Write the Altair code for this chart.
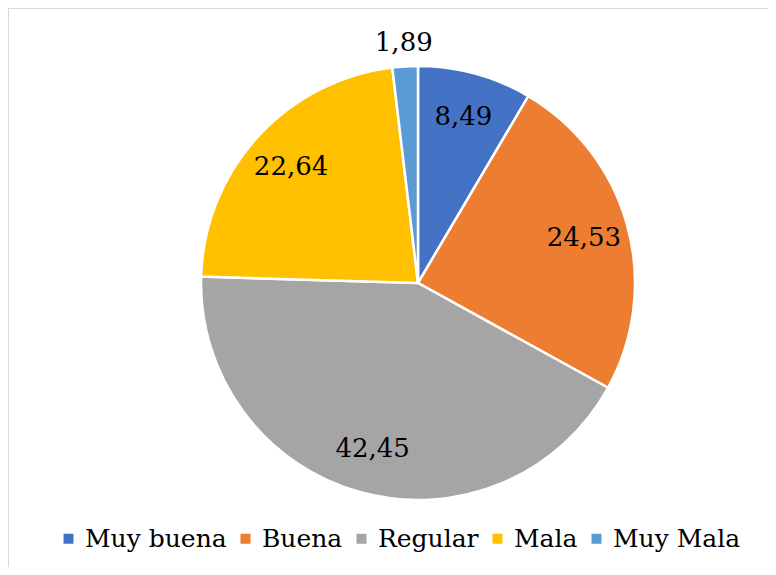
import altair as alt
import pandas as pd

categories = ["Muy buena", "Buena", "Regular", "Mala", "Muy Mala"]
values = [8.49, 24.53, 42.45, 22.64, 1.89]
colors = ["#4472C4", "#ED7D31", "#A5A5A5", "#FFC000", "#5B9BD5"]

df = pd.DataFrame({
    "cat": categories,
    "v": values,
    "ord": list(range(len(categories))),
    "lab": [f"{v:.2f}".replace(".", ",") for v in values],
})

W, H = 760, 559
CX, CY = 410, 275
FONT = "DejaVu Serif"

base = alt.Chart(df).encode(
    theta=alt.Theta("v:Q", stack=True),
    order=alt.Order("ord:Q"),
    x=alt.value(CX),
    y=alt.value(CY),
)

arcs = base.mark_arc(outerRadius=217, stroke="white", strokeWidth=2.5).encode(
    color=alt.Color(
        "cat:N",
        scale=alt.Scale(domain=categories, range=colors),
        sort=categories,
        legend=alt.Legend(
            title=None,
            orient="none",
            direction="horizontal",
            legendX=48,
            legendY=518,
            padding=0,
            symbolType="square",
            symbolSize=100,
            symbolStrokeWidth=0,
            labelFont=FONT,
            labelFontSize=25,
            labelColor="black",
            labelOffset=4,
            columnPadding=6,
            labelLimit=400,
        ),
    )
)

inner = base.mark_text(radius=172, font=FONT, fontSize=26, color="black").encode(
    text=alt.condition("datum.v > 5", alt.Text("lab:N"), alt.value(""))
)
outer = base.mark_text(radius=240, font=FONT, fontSize=26, color="black").encode(
    text=alt.condition("datum.v <= 5", alt.Text("lab:N"), alt.value(""))
)

border_top = alt.Chart(df).mark_rule(color="#d9d9d9", strokeWidth=2).encode(
    x=alt.value(0), x2=alt.value(W), y=alt.value(0)
)
border_left = alt.Chart(df).mark_rule(color="#d9d9d9", strokeWidth=2).encode(
    x=alt.value(0), y=alt.value(0), y2=alt.value(H)
)

chart = alt.layer(border_top, border_left, arcs, inner, outer).properties(
    width=W, height=H, padding=0,
    autosize=alt.AutoSizeParams(type="none"),
).configure_view(stroke=None)

chart.save("out.html", embed_options={"renderer": "svg", "actions": False})
